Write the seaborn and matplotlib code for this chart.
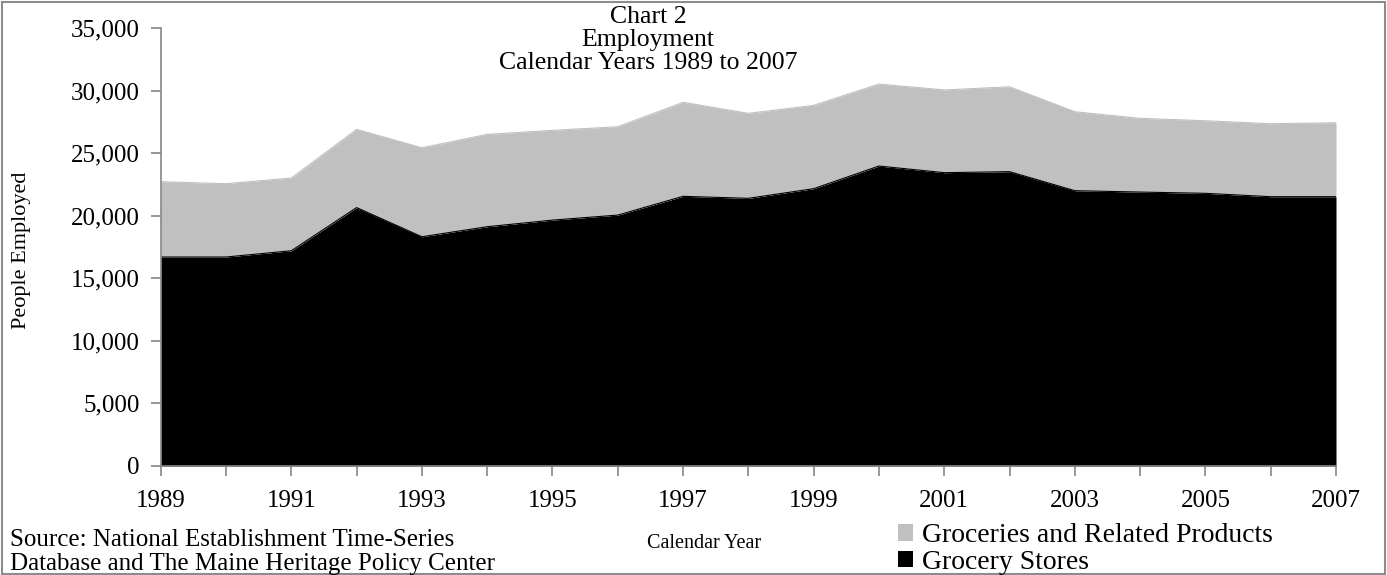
import matplotlib
matplotlib.use("Agg")
import matplotlib.pyplot as plt
from matplotlib.patches import Rectangle
import seaborn as sns
import pandas as pd

years = list(range(1989, 2008))
grocery_stores = [16700, 16700, 17200, 20650, 18320, 19120, 19650, 20050, 21550, 21390,
                  22160, 23970, 23440, 23520, 22000, 21890, 21790, 21520, 21520]
total_employment = [22720, 22560, 23010, 26900, 25430, 26500, 26820, 27110, 29060, 28180,
                    28820, 30520, 30050, 30300, 28310, 27780, 27590, 27350, 27430]
groceries_related = [t - g for t, g in zip(total_employment, grocery_stores)]
series_names = ["Grocery Stores", "Groceries and Related Products"]
y_ticks = [0, 5000, 10000, 15000, 20000, 25000, 30000, 35000]
x_tick_labels = [1989, 1991, 1993, 1995, 1997, 1999, 2001, 2003, 2005, 2007]

df = pd.DataFrame({"Year": years,
                   "Grocery Stores": grocery_stores,
                   "Groceries and Related Products": groceries_related})
df["Total"] = df["Grocery Stores"] + df["Groceries and Related Products"]

sns.set_theme(style="white")
plt.rcParams["font.family"] = ["Liberation Serif", "DejaVu Serif"]
plt.rcParams["text.color"] = "black"
plt.rcParams["xtick.color"] = "black"
plt.rcParams["ytick.color"] = "black"

W, H = 1387, 575
fig = plt.figure(figsize=(W / 100, H / 100), dpi=100)
ax = fig.add_axes([160.7 / W, 1 - 466 / H, (1336 - 160.7) / W, (466 - 28) / H])

black = "#000000"
gray = "#c0c0c0"
axis_gray = "#868686"

ax.stackplot(df["Year"], df["Grocery Stores"], df["Groceries and Related Products"],
             colors=[black, gray], linewidth=0)
sns.lineplot(data=df, x="Year", y="Total", ax=ax, color=gray, linewidth=0.8)
sns.lineplot(data=df, x="Year", y="Grocery Stores", ax=ax, color=black, linewidth=0.8)

ax.set_xlim(1989, 2007)
ax.set_ylim(0, 35000)
ax.set_yticks(y_ticks)
ax.set_yticklabels([f"{v:,}" for v in y_ticks])
ax.set_xticks(years)
ax.set_xticklabels([str(y) if y in x_tick_labels else "" for y in years])
ax.set_xlabel("")
ax.set_ylabel("")

for s in ["top", "right"]:
    ax.spines[s].set_visible(False)
for s in ["left", "bottom"]:
    ax.spines[s].set_color(axis_gray)
    ax.spines[s].set_linewidth(1.2)
ax.tick_params(axis="both", which="both", direction="out", length=7, width=1.2,
               color=axis_gray, labelsize=18, labelcolor="black",
               bottom=True, left=True, top=False, right=False)
ax.tick_params(axis="y", pad=8)
ax.tick_params(axis="x", pad=10)
ax.grid(False)

# Title
title_x = 648 / W
fig.text(title_x, 1 - 17 / H, "Chart 2", ha="center", va="center", fontsize=18.5)
fig.text(title_x, 1 - 40 / H, "Employment", ha="center", va="center", fontsize=18.5)
fig.text(title_x, 1 - 63 / H, "Calendar Years 1989 to 2007", ha="center", va="center", fontsize=18.5)

# Axis labels
fig.text(22 / W, 1 - 250 / H, "People Employed", rotation=90, ha="center", va="center", fontsize=16)
fig.text(704 / W, 1 - 543 / H, "Calendar Year", ha="center", va="center", fontsize=14.5)

# Source note
fig.text(10 / W, 1 - 540 / H, "Source: National Establishment Time-Series", ha="left", va="center", fontsize=18)
fig.text(10 / W, 1 - 564 / H, "Database and The Maine Heritage Policy Center", ha="left", va="center", fontsize=18)

# Legend
handles = [Rectangle((0, 0), 1, 1, facecolor=gray, edgecolor="none"),
           Rectangle((0, 0), 1, 1, facecolor=black, edgecolor="none")]
labels = [series_names[1], series_names[0]]
fig.legend(handles, labels, loc="center left", bbox_to_anchor=(898 / W, 1 - 549 / H),
           frameon=False, fontsize=20, handlelength=0.55, handleheight=0.55,
           handletextpad=0.3, labelspacing=0.05, borderpad=0, borderaxespad=0)

# Outer border
fig.patches.append(Rectangle((0.0015, 0.002), 0.997, 0.995, transform=fig.transFigure,
                             fill=False, edgecolor="#8c8c8c", linewidth=1.5))

fig.savefig("out.png", dpi=100)
